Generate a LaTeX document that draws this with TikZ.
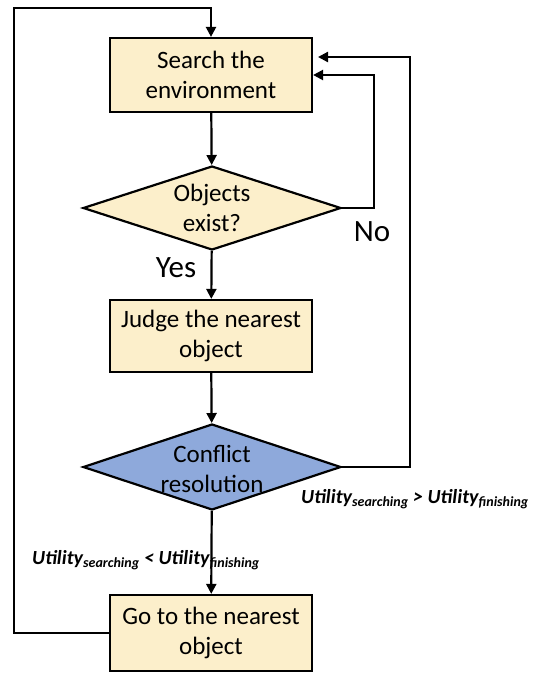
\documentclass[tikz,border=0pt]{standalone}
\usepackage{fontspec}
\setmainfont{Carlito}
\usepackage{xcolor}
\usetikzlibrary{arrows.meta,positioning,shapes.geometric,calc}

\definecolor{boxfill}{HTML}{FCEFCB}
\definecolor{decfill}{HTML}{8EA9DB}
\newcommand{\util}[1]{Utility\textsubscript{#1}}

\begin{document}
\begin{tikzpicture}[x=1pt, y=-1pt,
  action/.style={rectangle, draw, line width=2.2pt, fill=boxfill, minimum width=202pt, minimum height=74pt, inner sep=4pt, align=center, font=\fontsize{25}{30}\selectfont},
  decision/.style={diamond, draw, line width=2.2pt, inner sep=0pt, minimum width=258pt, minimum height=84pt},
  dtext/.style={align=center, font=\fontsize{25}{30}\selectfont},
  answer/.style={font=\fontsize{31}{34}\selectfont},
  cond/.style={font=\fontsize{20}{24}\selectfont\bfseries\itshape},
  flow/.style={draw, line width=2.2pt, -{Triangle[length=10pt,width=10pt]}}
]
  \useasboundingbox (0,0) rectangle (537,673);

  \node[action] (search) at (211, 75) {Search the\\environment};
  \node[decision, fill=boxfill, label={[dtext]center:Objects\\exist?}] (exist) at (212, 208) {};
  \node[action, minimum height=72pt] (judge) at (211, 336) {Judge the nearest\\object};
  \node[decision, fill=decfill, minimum height=86pt, label={[dtext, yshift=-2pt]center:Conflict\\resolution}] (conflict) at (212, 467) {};
  \node[action, minimum height=76pt] (goto) at (211, 633) {Go to the nearest\\object};

  % Branch labels
  \node[answer] (yes) at (176, 268) {Yes};
  \node[answer] (no) at (372, 232) {No};
  \node[cond] (stay) at (415, 499) {\util{searching} > \util{finishing}};
  \node[cond] (leave) at (146, 560) {\util{searching} < \util{finishing}};

  % Turning points of the loops
  \coordinate (topleft) at (14, 8);
  \coordinate (noturn) at (374, 75);
  \coordinate (backturn) at (410, 57);
  \coordinate (backin) at (318, 57);

  % Main line
  \draw[flow] (search) -- (exist);
  \draw[flow] (exist) -- (judge);
  \draw[flow] (judge) -- (conflict);
  \draw[flow] (conflict) -- (goto);

  % Loops back to the search
  \draw[flow] (exist.east) -| (noturn) -- (search.east);
  \draw[flow] (conflict.east) -| (backturn) -- (backin);
  \draw[flow] (goto.west) -| (topleft) -| (search.north);
\end{tikzpicture}
\end{document}
